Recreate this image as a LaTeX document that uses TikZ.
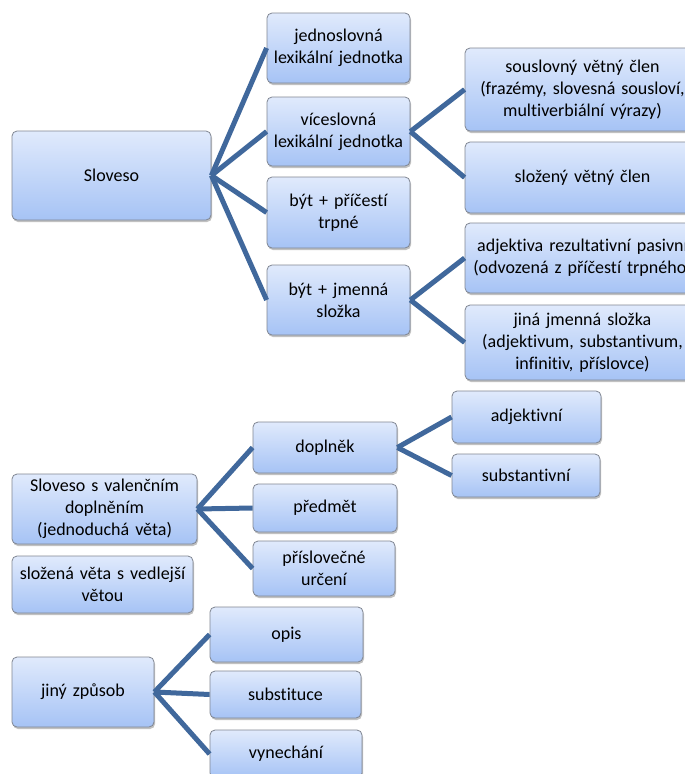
\documentclass[tikz,border=0pt]{standalone}
\usepackage{fontspec}
\setmainfont[Ligatures={NoCommon}]{Carlito}
\usetikzlibrary{shadows}
\definecolor{boxtop}{RGB}{224,234,252}
\definecolor{boxbot}{RGB}{166,195,245}
\definecolor{boxline}{RGB}{128,134,146}
\definecolor{conn}{RGB}{64,104,156}
\tikzset{
  bx/.style 2 args={draw=boxline, line width=0.8pt, rounded corners=5pt,
    top color=boxtop, bottom color=boxbot,
    drop shadow={opacity=0.4, shadow xshift=1pt, shadow yshift=-2pt, fill=black!60},
    inner sep=0pt, align=center, minimum width=#1, minimum height=#2,
    text width=#1pt, font=\fontsize{18}{22}\selectfont},
  link/.style={draw=conn, line width=5pt}
}
\begin{document}
\begin{tikzpicture}[x=1pt,y=-1pt]
\useasboundingbox (0,0) rectangle (685,774);
\clip (0,0) rectangle (685,774);
\fill[white] (0,0) rectangle (685,774);
% upper tree
\node[bx={199}{89}] (sl) at (111.5,175.5) {Sloveso};
\node[bx={143}{70}] (jed) at (338.5,48) {jednoslovná\\lexikální jednotka};
\node[bx={143}{69}] (vic) at (338.5,131.5) {víceslovná\\lexikální jednotka};
\node[bx={143}{71}] (byta) at (338.5,212.5) {být + příčestí\\trpné};
\node[bx={143}{70}] (bytb) at (338.5,300) {být + jmenná\\složka};
\node[bx={235}{83}] (sou) at (582.5,89.5) {souslovný větný člen\\(frazémy, slovesná sousloví,\\multiverbiální výrazy)};
\node[bx={235}{71}] (slo) at (582.5,177.5) {složený větný člen};
\node[bx={235}{70}] (adj) at (582.5,258) {adjektiva rezultativní pasivní\\(odvozená z příčestí trpného)};
\node[bx={235}{75}] (jin) at (582.5,342.5) {jiná jmenná složka\\(adjektivum, substantivum,\\infinitiv, příslovce)};
% middle tree
\node[bx={185}{70}] (val) at (104.5,509) {Sloveso s valenčním\\doplněním\\(jednoduchá věta)};
\node[bx={144}{51}] (dop) at (325,447.5) {doplněk};
\node[bx={144}{48}] (pre) at (325,508) {předmět};
\node[bx={142}{55}] (pri) at (324,568.5) {příslovečné\\určení};
\node[bx={181}{57}] (slv) at (102.5,584.5) {složená věta s vedlejší\\větou};
\node[bx={149}{52}] (adjv) at (526.5,417) {adjektivní};
\node[bx={148}{43}] (sub) at (526,475.5) {substantivní};
% bottom tree
\node[bx={142}{70}] (jiny) at (83,692) {jiný způsob};
\node[bx={153}{55}] (opis) at (286.5,634.5) {opis};
\node[bx={151}{47}] (subs) at (285.5,694.5) {substituce};
\node[bx={152}{48}] (vyn) at (286,754) {vynechání};
% connectors
\draw[link] (sl.east) -- (jed.west);
\draw[link] (sl.east) -- (vic.west);
\draw[link] (sl.east) -- (byta.west);
\draw[link] (sl.east) -- (bytb.west);
\draw[link] (vic.east) -- (sou.west);
\draw[link] (vic.east) -- (slo.west);
\draw[link] (bytb.east) -- (adj.west);
\draw[link] (bytb.east) -- (jin.west);
\draw[link] (val.east) -- (dop.west);
\draw[link] (val.east) -- (pre.west);
\draw[link] (val.east) -- (pri.west);
\draw[link] (dop.east) -- (adjv.west);
\draw[link] (dop.east) -- (sub.west);
\draw[link] (jiny.east) -- (opis.west);
\draw[link] (jiny.east) -- (subs.west);
\draw[link] (jiny.east) -- (vyn.west);
\end{tikzpicture}
\end{document}
